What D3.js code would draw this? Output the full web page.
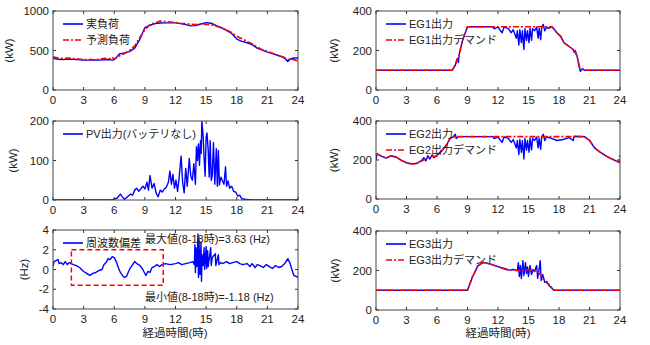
<!DOCTYPE html>
<html><head><meta charset="utf-8">
<script src="https://cdn.jsdelivr.net/npm/d3@7"></script>
<style>
body{margin:0;background:#fff;}
text{font-family:"Liberation Sans","Noto Sans CJK JP",sans-serif;fill:#222;}
</style></head><body>
<svg id="c" width="650" height="345"></svg>
<script>
// ---- data (hours, value) ----
const hourTicks = [0,3,6,9,12,15,18,21,24];
const loadActual = [[0,400],[0.5,390],[1,385],[1.5,392],[2,388],[3,380],[3.5,378],[4,380],[4.5,378],[5,382],[5.5,386],[5.9,378],[6.2,410],[6.5,455],[7,470],[7.5,485],[8,530],[8.5,640],[9,790],[9.5,820],[10,840],[10.5,848],[11,850],[12,850],[12.5,840],[13,828],[13.5,812],[14,815],[14.5,835],[15,852],[15.5,845],[16,815],[16.5,790],[17,755],[17.5,715],[18,645],[18.5,615],[19,598],[19.5,575],[20,530],[20.5,505],[21,480],[21.5,460],[22,440],[22.5,415],[22.8,390],[23,360],[23.3,395],[23.6,405],[24,405]];
const loadForecast = [[0,420],[0.5,405],[1,400],[1.5,405],[2,398],[2.5,392],[3,385],[3.5,388],[4,382],[4.5,390],[5,400],[5.5,395],[5.8,415],[6,390],[6.5,430],[7,462],[7.5,500],[8,560],[8.5,665],[9,760],[9.5,830],[10,852],[10.5,872],[11,866],[11.5,860],[12,855],[12.5,845],[13,840],[13.5,832],[14,828],[14.5,838],[15,830],[15.5,825],[16,808],[16.5,785],[17,760],[17.5,728],[18,680],[18.5,650],[19,615],[19.5,585],[20,545],[20.5,510],[21,490],[21.5,465],[22,440],[22.5,420],[23,390],[23.5,385],[24,370]];
const pvOutput = [[0,0],[5.8,0],[6,2],[6.3,5],[6.6,15],[6.8,8],[7,2],[7.3,8],[7.6,15],[7.8,12],[8,25],[8.2,30],[8.4,22],[8.6,28],[8.8,35],[9,28],[9.2,45],[9.35,25],[9.5,62],[9.7,30],[9.9,42],[10.1,18],[10.3,8],[10.5,25],[10.7,20],[10.9,28],[11.1,32],[11.3,45],[11.45,73],[11.6,40],[11.75,65],[11.9,30],[12.05,50],[12.2,22],[12.35,55],[12.55,111],[12.7,45],[12.85,18],[13.0,80],[13.15,35],[13.35,105],[13.5,60],[13.65,50],[13.8,92],[13.95,40],[14.05,135],[14.15,100],[14.25,142],[14.35,88],[14.45,150],[14.52,118],[14.58,200],[14.7,165],[14.8,108],[14.9,60],[15.0,158],[15.08,170],[15.2,128],[15.3,58],[15.4,150],[15.5,50],[15.6,62],[15.72,145],[15.85,40],[16.0,130],[16.1,35],[16.2,125],[16.3,38],[16.45,58],[16.6,48],[16.75,40],[16.9,84],[17.0,35],[17.15,48],[17.3,30],[17.5,35],[17.7,22],[17.9,20],[18.1,10],[18.3,12],[18.5,3],[18.8,2],[19.2,1],[19.6,0],[24,0]];
const freqDev = [[0,0.3],[0.1,0.8],[0.3,0.9],[0.5,1.0],[0.6,0.6],[0.8,0.7],[1.0,0.5],[1.2,0.8],[1.4,0.5],[1.6,0.7],[1.8,0.6],[2.0,0.5],[2.3,0.4],[2.6,0.2],[3.0,-0.2],[3.3,-0.4],[3.6,-0.6],[3.9,-0.4],[4.2,-0.3],[4.5,-0.1],[4.8,0.0],[5.0,0.5],[5.2,0.7],[5.4,1.1],[5.6,1.0],[5.8,1.3],[6.0,1.2],[6.2,0.8],[6.4,0.2],[6.6,-0.3],[6.8,-0.6],[7.0,-0.8],[7.2,-0.7],[7.4,-0.2],[7.6,0.2],[7.8,0.5],[8.0,0.8],[8.2,0.6],[8.4,0.5],[8.6,0.3],[8.8,0.0],[9.0,-0.4],[9.1,-0.6],[9.3,-0.2],[9.5,-0.3],[9.7,0.2],[9.9,0.3],[10.2,0.5],[10.4,0.3],[10.7,0.5],[11,0.6],[11.5,0.5],[12,0.6],[12.3,0.7],[12.6,0.5],[13,0.6],[13.4,0.7],[13.7,0.8],[13.85,0.5],[13.9,2.5],[13.95,-0.3],[14.0,2.2],[14.1,0.3],[14.2,3.6],[14.25,-0.8],[14.3,3.0],[14.4,-0.5],[14.5,2.8],[14.55,-1.2],[14.6,1.5],[14.7,0.4],[14.8,2.2],[14.85,0.0],[15.0,2.3],[15.05,0.1],[15.15,1.9],[15.2,0.3],[15.45,2.2],[15.5,0.4],[15.6,1.2],[15.9,1.6],[15.95,0.4],[16.2,1.5],[16.25,0.5],[16.4,0.7],[16.6,0.6],[17,0.8],[17.3,0.6],[17.6,0.7],[18,0.8],[18.3,0.6],[18.6,0.5],[19,0.6],[19.3,0.3],[19.5,0.6],[19.8,0.2],[20,0.5],[20.3,0.4],[20.6,0.2],[20.9,0.5],[21.2,0.3],[21.5,0.1],[21.8,0.4],[22.1,0.2],[22.4,0.3],[22.7,0.6],[23.0,1.1],[23.2,0.7],[23.4,0.0],[23.6,-0.6],[23.8,-0.7],[24,-0.8]];
const freqBox = {t0:1.8, t1:10.8, v0:-1.6, v1:2};
const eg1Demand = [[0,100],[7.5,100],[7.8,130],[8.2,180],[8.5,250],[9,320],[17.3,320],[17.8,290],[18.2,270],[18.5,240],[19,220],[19.5,200],[19.8,170],[20,120],[20.2,105],[20.5,100],[24,100]];
const eg1Output = [[0,100],[7.5,100],[7.8,125],[8.0,160],[8.1,140],[8.2,185],[8.5,250],[9,320],[11.5,320],[11.6,310],[12,318],[12.4,290],[12.6,318],[13,312],[13.3,290],[13.5,305],[13.8,262],[13.9,300],[14.05,228],[14.15,305],[14.3,240],[14.4,300],[14.55,205],[14.65,310],[14.8,250],[14.9,300],[15.05,240],[15.15,312],[15.3,252],[15.4,310],[15.6,300],[15.8,318],[15.95,262],[16.05,312],[16.2,255],[16.3,320],[16.45,332],[16.6,300],[16.8,318],[17,312],[17.3,322],[17.8,290],[18.2,268],[18.5,238],[19,220],[19.4,205],[19.5,190],[19.6,200],[19.8,165],[20,115],[20.1,95],[20.3,108],[20.5,100],[24,100]];
const eg2Demand = [[0,232],[0.5,222],[1,210],[1.5,222],[2,215],[2.5,198],[3,185],[3.5,180],[4,182],[4.5,195],[5,210],[5.5,218],[6,220],[6.5,250],[7,282],[7.3,312],[7.5,320],[20.5,320],[21,302],[21.5,262],[22,242],[22.5,225],[23,210],[23.5,200],[23.9,188],[24,230]];
const eg2Output = [[0,200],[0.1,232],[0.5,220],[1,210],[1.5,222],[2,214],[2.5,198],[3,186],[3.5,180],[4,182],[4.5,198],[4.7,212],[4.9,195],[5.1,222],[5.3,205],[5.5,225],[5.7,212],[6,225],[6.5,248],[7,282],[7.3,312],[7.6,318],[7.8,332],[7.9,310],[8.1,320],[11.5,320],[11.6,310],[12,318],[12.4,290],[12.6,318],[13,312],[13.3,290],[13.5,305],[13.8,262],[13.9,300],[14.05,228],[14.15,305],[14.3,240],[14.4,300],[14.55,205],[14.65,310],[14.8,250],[14.9,300],[15.05,240],[15.15,312],[15.3,252],[15.4,310],[15.6,300],[15.8,318],[15.95,262],[16.05,312],[16.2,255],[16.3,320],[16.45,332],[16.6,300],[16.8,318],[17.2,312],[17.8,300],[18.4,305],[19,315],[19.4,300],[19.5,322],[20.5,320],[21,300],[21.5,262],[22,242],[22.5,225],[23,210],[23.5,198],[24,185]];
const eg3Demand = [[0,100],[9,100],[9.5,170],[10,220],[10.5,240],[11,236],[12,220],[13,205],[14,200],[15,205],[15.5,200],[16,188],[16.3,172],[16.5,150],[17,130],[17.5,100],[24,100]];
const eg3Output = [[0,100],[9,100],[9.5,168],[10,222],[10.5,242],[11,236],[12,220],[12.5,210],[13,202],[13.5,205],[13.9,198],[14.0,240],[14.1,170],[14.2,225],[14.3,160],[14.45,250],[14.55,175],[14.7,240],[14.8,185],[14.9,218],[15.0,170],[15.15,225],[15.3,180],[15.45,205],[15.6,195],[15.8,225],[15.9,160],[16.05,210],[16.15,250],[16.25,150],[16.4,180],[16.6,140],[16.8,145],[17,125],[17.5,100],[24,100]];

// ---- layout ----
const svg = d3.select("#c");
const blue = "#0000ff", red = "#ff0000";
const dashPat = "6,2,2,2";

function panel(o){
  const x = d3.scaleLinear().domain([0,24]).range([o.l,o.r]);
  const y = d3.scaleLinear().domain(o.dom).range([o.b,o.t]);
  const g = svg.append("g");
  const clipId = "clip"+o.id;
  svg.append("clipPath").attr("id",clipId).append("rect")
     .attr("x",o.l).attr("y",o.t).attr("width",o.r-o.l).attr("height",o.b-o.t);
  const line = d3.line().x(d=>x(d[0])).y(d=>y(d[1]));
  const lg = g.append("g").attr("clip-path",`url(#${clipId})`);
  (o.series||[]).forEach(s=>{
    lg.append("path").datum(s.data).attr("d",line).attr("fill","none")
      .attr("stroke",s.color).attr("stroke-width",s.dash?1.6:1.4)
      .attr("stroke-dasharray",s.dash?dashPat:null).attr("stroke-linejoin","round");
  });
  const tl = 3;
  hourTicks.forEach(t=>{
    g.append("line").attr("x1",x(t)).attr("x2",x(t)).attr("y1",o.b).attr("y2",o.b-tl).attr("stroke","#333");
    g.append("line").attr("x1",x(t)).attr("x2",x(t)).attr("y1",o.t).attr("y2",o.t+tl).attr("stroke","#333");
    g.append("text").attr("x",x(t)).attr("y",o.b+14).attr("text-anchor","middle").attr("font-size",11.5).text(t);
  });
  o.yt.forEach(v=>{
    g.append("line").attr("x1",o.l).attr("x2",o.l+tl).attr("y1",y(v)).attr("y2",y(v)).attr("stroke","#333");
    g.append("line").attr("x1",o.r).attr("x2",o.r-tl).attr("y1",y(v)).attr("y2",y(v)).attr("stroke","#333");
    g.append("text").attr("x",o.l-4).attr("y",y(v)+4).attr("text-anchor","end").attr("font-size",11.5).text(v);
  });
  g.append("rect").attr("x",o.l).attr("y",o.t).attr("width",o.r-o.l).attr("height",o.b-o.t)
    .attr("fill","none").attr("stroke","#444").attr("stroke-width",1);
  g.append("text").attr("transform",`translate(${o.ylx},${(o.t+o.b)/2}) rotate(-90)`)
    .attr("text-anchor","middle").attr("font-size",11.5).text(o.ylab);
  (o.legend||[]).forEach((e,i)=>{
    const ly = o.t + 13 + i*16;
    g.append("line").attr("x1",o.l+10).attr("x2",o.l+30).attr("y1",ly).attr("y2",ly)
     .attr("stroke",e.color).attr("stroke-width",1.6).attr("stroke-dasharray",e.dash?dashPat:null);
    g.append("text").attr("x",o.l+33).attr("y",ly+4).attr("font-size",11).text(e.label);
  });
  return {x,y,g};
}

panel({id:1,l:53,r:298,t:11,b:90,dom:[0,1000],yt:[0,500,1000],ylab:"(kW)",ylx:13,
  series:[{data:loadActual,color:blue},{data:loadForecast,color:red,dash:true}],
  legend:[{label:"実負荷",color:blue},{label:"予測負荷",color:red,dash:true}]});
panel({id:2,l:53,r:298,t:121,b:200,dom:[0,200],yt:[0,100,200],ylab:"(kW)",ylx:17,
  series:[{data:pvOutput,color:blue}],
  legend:[{label:"PV出力(バッテリなし)",color:blue}]});
const p3 = panel({id:3,l:53,r:298,t:230,b:309,dom:[-4,4],yt:[-4,-2,0,2,4],ylab:"(Hz)",ylx:28,
  series:[{data:freqDev,color:blue}],
  legend:[{label:"周波数偏差",color:blue}]});
p3.g.append("rect").attr("x",p3.x(freqBox.t0)).attr("y",p3.y(freqBox.v1))
  .attr("width",p3.x(freqBox.t1)-p3.x(freqBox.t0)).attr("height",p3.y(freqBox.v0)-p3.y(freqBox.v1))
  .attr("fill","none").attr("stroke",red).attr("stroke-width",1.5).attr("stroke-dasharray","5,3");
p3.g.append("text").attr("x",145).attr("y",243).attr("font-size",11).text("最大値(8-18時)=3.63 (Hz)");
p3.g.append("text").attr("x",145).attr("y",301).attr("font-size",11).text("最小値(8-18時)=-1.18 (Hz)");
svg.append("text").attr("x",175).attr("y",337).attr("text-anchor","middle").attr("font-size",11.5).text("経過時間(時)");

panel({id:4,l:376,r:620,t:11,b:90,dom:[0,400],yt:[0,200,400],ylab:"(kW)",ylx:338,
  series:[{data:eg1Output,color:blue},{data:eg1Demand,color:red,dash:true}],
  legend:[{label:"EG1出力",color:blue},{label:"EG1出力デマンド",color:red,dash:true}]});
panel({id:5,l:376,r:620,t:121,b:199,dom:[0,400],yt:[0,200,400],ylab:"(kW)",ylx:338,
  series:[{data:eg2Output,color:blue},{data:eg2Demand,color:red,dash:true}],
  legend:[{label:"EG2出力",color:blue},{label:"EG2出力デマンド",color:red,dash:true}]});
panel({id:6,l:376,r:620,t:231,b:310,dom:[0,400],yt:[0,200,400],ylab:"(kW)",ylx:339,
  series:[{data:eg3Output,color:blue},{data:eg3Demand,color:red,dash:true}],
  legend:[{label:"EG3出力",color:blue},{label:"EG3出力デマンド",color:red,dash:true}]});
svg.append("text").attr("x",498).attr("y",337).attr("text-anchor","middle").attr("font-size",11.5).text("経過時間(時)");
</script></body></html>
